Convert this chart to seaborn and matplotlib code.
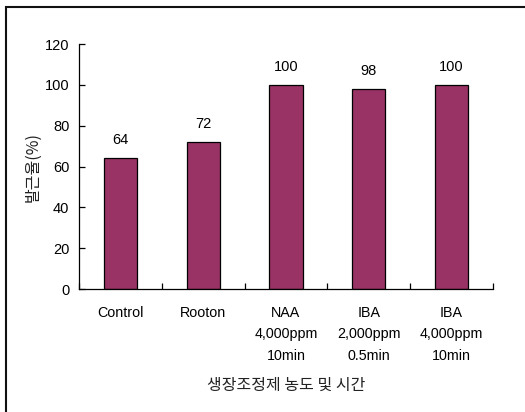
import matplotlib
matplotlib.use("Agg")
import matplotlib.pyplot as plt
import seaborn as sns
import pandas as pd
from matplotlib.patches import Rectangle

treatments = ["Control", "Rooton", "NAA\n4,000ppm\n10min",
              "IBA\n2,000ppm\n0.5min", "IBA\n4,000ppm\n10min"]
rooting_rate = [64, 72, 100, 98, 100]
y_ticks = [0, 20, 40, 60, 80, 100, 120]

sns.set_theme(style="white")
plt.rcParams["font.family"] = ["Liberation Sans", "Noto Sans CJK KR", "DejaVu Sans"]
plt.rcParams["text.color"] = "black"
plt.rcParams["axes.labelcolor"] = "black"
plt.rcParams["xtick.color"] = "black"
plt.rcParams["ytick.color"] = "black"

df = pd.DataFrame({"treatment": treatments, "rate": rooting_rate})

fig = plt.figure(figsize=(5.25, 4.12), dpi=100)
ax = fig.add_axes([0.1505, 0.2985, 0.7885, 0.5947])

sns.barplot(data=df, x="treatment", y="rate", color="#993366", saturation=1,
            width=0.4, edgecolor="black", linewidth=0.9, ax=ax)

ax.set_xlim(-0.5, len(treatments) - 0.5)
ax.set_ylim(0, 120)
ax.set_yticks(y_ticks)
ax.set_yticklabels([str(v) for v in y_ticks], fontsize=10.5)

ax.set_xticks(range(len(treatments)))
ax.set_xticklabels(treatments, fontsize=10.3, linespacing=1.7)
ax.tick_params(axis="x", which="major", bottom=True, length=0, pad=12)
ax.set_xticks([i - 0.5 for i in range(len(treatments) + 1)], minor=True)
ax.tick_params(axis="x", which="minor", bottom=True, direction="in",
               length=4, width=0.9, color="black")
ax.tick_params(axis="y", left=True, direction="in", length=4, width=0.9,
               color="black", pad=7)

for s in ["top", "right"]:
    ax.spines[s].set_visible(False)
for s in ["left", "bottom"]:
    ax.spines[s].set_color("black")
    ax.spines[s].set_linewidth(0.9)

for i, v in enumerate(rooting_rate):
    ax.annotate(str(v), (i, v), xytext=(0, 8), textcoords="offset points",
                ha="center", va="bottom", fontsize=10.5, color="black")

ax.set_xlabel("생장조정제 농도 및 시간", fontsize=11.5, labelpad=10,
              family=["Noto Sans CJK KR", "DejaVu Sans"], color="#222222")
ax.set_ylabel("발근율(%)", fontsize=11.5, labelpad=2,
              family=["Noto Sans CJK KR", "DejaVu Sans"], color="#222222")

fig.patches.append(Rectangle((6 / 525, -0.05), 1.2, 1 - 7 / 412 + 0.05,
                             transform=fig.transFigure, fill=False,
                             edgecolor="#111111", linewidth=1.5))

fig.savefig("out.png", dpi=100)
